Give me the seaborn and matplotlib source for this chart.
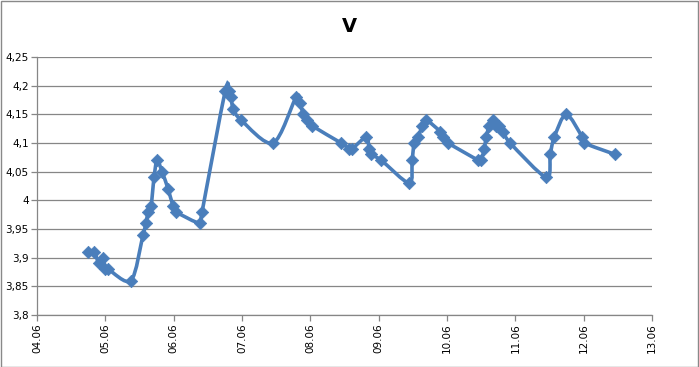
import matplotlib
matplotlib.use("Agg")
import matplotlib.pyplot as plt
import numpy as np
import pandas as pd
import seaborn as sns
from matplotlib.patches import PathPatch, Rectangle
from matplotlib.path import Path

# time as day of June (fractional), voltage
day = [4.747, 4.835, 4.908, 4.966, 4.996, 5.04, 5.376, 5.552, 5.596, 5.625,
       5.669, 5.713, 5.757, 5.830, 5.918, 5.991, 6.035, 6.387, 6.416, 6.753,
       6.811, 6.840, 6.870, 6.987, 7.455, 7.792, 7.851, 7.895, 7.953, 8.026,
       8.451, 8.568, 8.612, 8.817, 8.861, 8.890, 9.037, 9.447, 9.490, 9.520,
       9.578, 9.637, 9.695, 9.900, 9.944, 10.018, 10.457, 10.501, 10.545, 10.574,
       10.618, 10.677, 10.720, 10.764, 10.823, 10.925, 11.452, 11.511, 11.570, 11.745,
       11.980, 12.009, 12.463]
volts = [3.91, 3.91, 3.89, 3.90, 3.88, 3.88, 3.86, 3.94, 3.96, 3.98,
         3.99, 4.04, 4.07, 4.05, 4.02, 3.99, 3.98, 3.96, 3.98, 4.19,
         4.19, 4.18, 4.16, 4.14, 4.10, 4.18, 4.17, 4.15, 4.14, 4.13,
         4.10, 4.09, 4.09, 4.11, 4.09, 4.08, 4.07, 4.03, 4.07, 4.10,
         4.11, 4.13, 4.14, 4.12, 4.11, 4.10, 4.07, 4.07, 4.09, 4.11,
         4.13, 4.14, 4.13, 4.13, 4.12, 4.10, 4.04, 4.08, 4.11, 4.15,
         4.11, 4.10, 4.08]
x_ticks = [4, 5, 6, 7, 8, 9, 10, 11, 12, 13]
x_labels = ["04.06", "05.06", "06.06", "07.06", "08.06", "09.06",
            "10.06", "11.06", "12.06", "13.06"]
y_ticks = [3.8, 3.85, 3.9, 3.95, 4.0, 4.05, 4.1, 4.15, 4.2, 4.25]
y_labels = ["3,8", "3,85", "3,9", "3,95", "4", "4,05", "4,1", "4,15", "4,2", "4,25"]

df = pd.DataFrame({"day": day, "V": volts})
blue = "#4A7EBB"


def smooth_path(x, y, k=0.15):
    # Excel-like smoothed line: Catmull-Rom converted to cubic Bezier segments
    pts = np.column_stack([x, y])
    n = len(pts)
    verts = [pts[0]]
    codes = [Path.MOVETO]
    for i in range(n - 1):
        p0 = pts[i - 1] if i > 0 else pts[i]
        p1, p2 = pts[i], pts[i + 1]
        p3 = pts[i + 2] if i + 2 < n else pts[i + 1]
        c1 = p1 + (p2 - p0) * k
        c2 = p2 - (p3 - p1) * k
        verts += [c1, c2, p2]
        codes += [Path.CURVE4] * 3
    return Path(verts, codes)


sns.set_theme(style="white")
plt.rcParams["font.family"] = ["DejaVu Sans"]
plt.rcParams["text.color"] = "black"
plt.rcParams["xtick.color"] = "black"
plt.rcParams["ytick.color"] = "black"

fig = plt.figure(figsize=(6.99, 3.67), dpi=100)
ax = fig.add_axes([37 / 699, 1 - 315 / 367, 615 / 699, 258 / 367])

ax.add_patch(PathPatch(smooth_path(df["day"].values, df["V"].values),
                       fill=False, edgecolor=blue, lw=2.6, zorder=3))
sns.scatterplot(data=df, x="day", y="V", ax=ax, marker="D", s=40,
                color=blue, edgecolor=blue, linewidth=0.5, zorder=4, legend=False)

ax.set_xlim(4, 13)
ax.set_ylim(3.8, 4.25)
ax.set_xticks(x_ticks)
ax.set_xticklabels(x_labels, rotation=90, fontsize=7.5)
ax.set_yticks(y_ticks)
ax.set_yticklabels(y_labels, fontsize=7.5)
ax.grid(axis="y", color="#868686", lw=0.9)
ax.grid(axis="x", visible=False)
ax.tick_params(axis="both", length=4, width=0.9, color="#868686",
               labelcolor="black", direction="out", pad=2, bottom=True, left=True)
for side in ["top", "right"]:
    ax.spines[side].set_visible(False)
for side in ["left", "bottom"]:
    ax.spines[side].set_color("#868686")
    ax.spines[side].set_linewidth(0.9)
ax.set_xlabel("")
ax.set_ylabel("")

fig.text(0.5, 1 - 27 / 367, "V", ha="center", va="center",
         fontsize=14, fontweight="bold", color="black")
fig.patches.append(Rectangle((0.5 / 699, 0.5 / 367), 697.5 / 699, 365.5 / 367,
                             transform=fig.transFigure, fill=False,
                             edgecolor="#898989", lw=1))

fig.savefig("out.png", dpi=100)
